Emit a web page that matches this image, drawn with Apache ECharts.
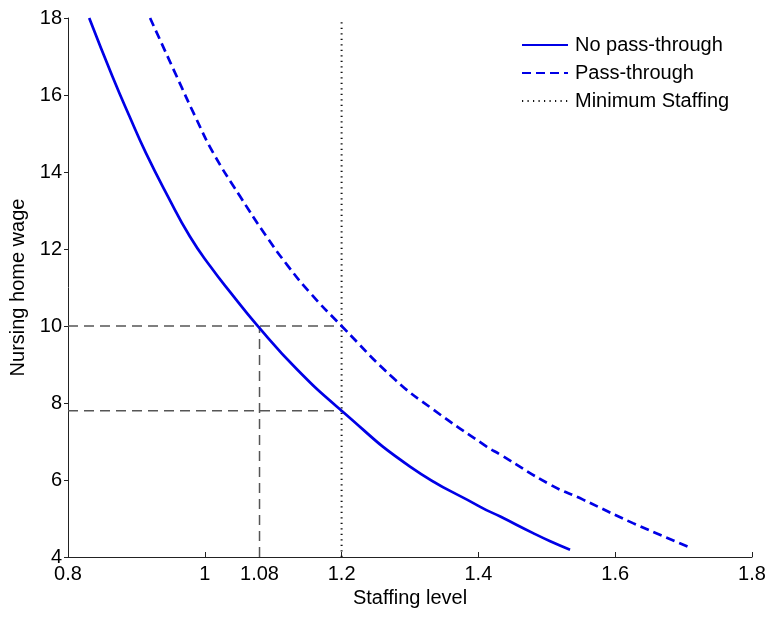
<!DOCTYPE html>
<html>
<head>
<meta charset="utf-8">
<title>Nursing home wage vs staffing level</title>
<script src="https://cdn.jsdelivr.net/npm/echarts@6/dist/echarts.min.js"></script>
<style>
    html,body{margin:0;padding:0;background:#fff;}
    #main{width:769px;height:617px;}
</style>
</head>
<body>
<div id="main"></div>
<script>
    // 读图得到的数据
    var noPassX = [0.831, 0.865, 0.890, 0.914, 0.946, 0.978, 1.008, 1.038, 1.076, 1.135, 1.200, 1.300, 1.402, 1.432, 1.480, 1.505, 1.534];
    var noPassY = [18.0, 16.48, 15.44, 14.49, 13.37, 12.33, 11.55, 10.86, 10.03, 8.87, 7.80, 6.35, 5.31, 5.05, 4.62, 4.41, 4.19];
    var passX = [0.920, 0.959, 0.986, 1.0125, 1.0515, 1.090, 1.122, 1.154, 1.200, 1.278, 1.334, 1.412, 1.432, 1.505, 1.553, 1.626, 1.712];
    var passY = [18.0, 16.48, 15.44, 14.49, 13.37, 12.33, 11.55, 10.86, 10.0, 8.61, 7.83, 6.87, 6.66, 5.88, 5.49, 4.88, 4.23];
    var minStaffing = 1.2;
    var refStaff = [1.08, 1.2];
    var refWage = [10, 7.8];
    var xTicks = [0.8, 1, 1.08, 1.2, 1.4, 1.6, 1.8];
    var yRange = [4, 18];
    var xRange = [0.8, 1.8];

    var FONT = "'Liberation Sans', Arial, sans-serif";
    var BLUE = "#0000e6";

    /**
     * x,y 数组合成点对
     */
    function zip(xs, ys) {
        var out = [];
        for (var i = 0; i < xs.length; i++) {
            out.push([xs[i], ys[i]]);
        }
        return out;
    }

    /**
     * 灰色虚线参考线
     */
    function refLine(data) {
        return {
            type: "line",
            data: data,
            symbol: "none",
            silent: true,
            lineStyle: {color: "#555", width: 1.5, type: [10, 6]},
            z: 1
        };
    }

    /**
     * 蓝色曲线
     */
    function curve(name, data, dash) {
        return {
            name: name,
            type: "line",
            data: data,
            smooth: 0.5,
            symbol: "none",
            lineStyle: {color: BLUE, width: 2.7, type: dash},
            itemStyle: {color: BLUE},
            z: 3
        };
    }

    var option = {
        animation: false,
        backgroundColor: "#fff",
        textStyle: {fontFamily: FONT},
        grid: {left: 68, right: 17, top: 18, bottom: 60, containLabel: false, outerBoundsMode: "none"},
        legend: {
            orient: "vertical",
            left: 521,
            top: 35,
            padding: 0,
            itemWidth: 46,
            itemHeight: 14,
            itemGap: 8,
            data: ["No pass-through", "Pass-through", "Minimum Staffing"],
            itemStyle: {opacity: 0},
            textStyle: {fontFamily: FONT, fontSize: 20, color: "#000", lineHeight: 20, padding: [0, 0, 0, 2]}
        },
        xAxis: {
            type: "value",
            min: xRange[0],
            max: xRange[1],
            interval: 0.2,
            name: "Staffing level",
            nameLocation: "middle",
            nameGap: 30,
            nameTextStyle: {fontFamily: FONT, fontSize: 20, color: "#000"},
            axisLine: {lineStyle: {color: "#222", width: 1}},
            axisTick: {inside: true, length: 5, customValues: xTicks, lineStyle: {color: "#222"}},
            axisLabel: {
                customValues: xTicks,
                margin: 7,
                fontFamily: FONT,
                fontSize: 20,
                color: "#000",
                formatter: function (v) { return String(v); }
            },
            splitLine: {show: false}
        },
        yAxis: {
            type: "value",
            min: yRange[0],
            max: yRange[1],
            interval: 2,
            name: "Nursing home wage",
            nameLocation: "middle",
            nameGap: 33,
            nameTextStyle: {fontFamily: FONT, fontSize: 20, color: "#000"},
            axisLine: {show: true, lineStyle: {color: "#222", width: 1}},
            axisTick: {show: true, inside: false, length: 4, lineStyle: {color: "#222"}},
            axisLabel: {margin: 6, fontFamily: FONT, fontSize: 20, color: "#000"},
            splitLine: {show: false}
        },
        series: [
            refLine([[xRange[0], refWage[0]], [refStaff[1], refWage[0]]]),
            refLine([[xRange[0], refWage[1]], [refStaff[1], refWage[1]]]),
            refLine([[refStaff[0], yRange[0]], [refStaff[0], refWage[0]]]),
            curve("No pass-through", zip(noPassX, noPassY), "solid"),
            curve("Pass-through", zip(passX, passY), [9, 5]),
            {
                name: "Minimum Staffing",
                type: "line",
                data: [[minStaffing, yRange[0]], [minStaffing, yRange[1]]],
                symbol: "none",
                lineStyle: {color: "#111", width: 2, type: [1.2, 4.3]},
                itemStyle: {color: "#111"},
                z: 2
            }
        ]
    };

    var chart = echarts.init(document.getElementById("main"), null, {renderer: "canvas"});
    chart.setOption(option, true);
</script>
</body>
</html>
